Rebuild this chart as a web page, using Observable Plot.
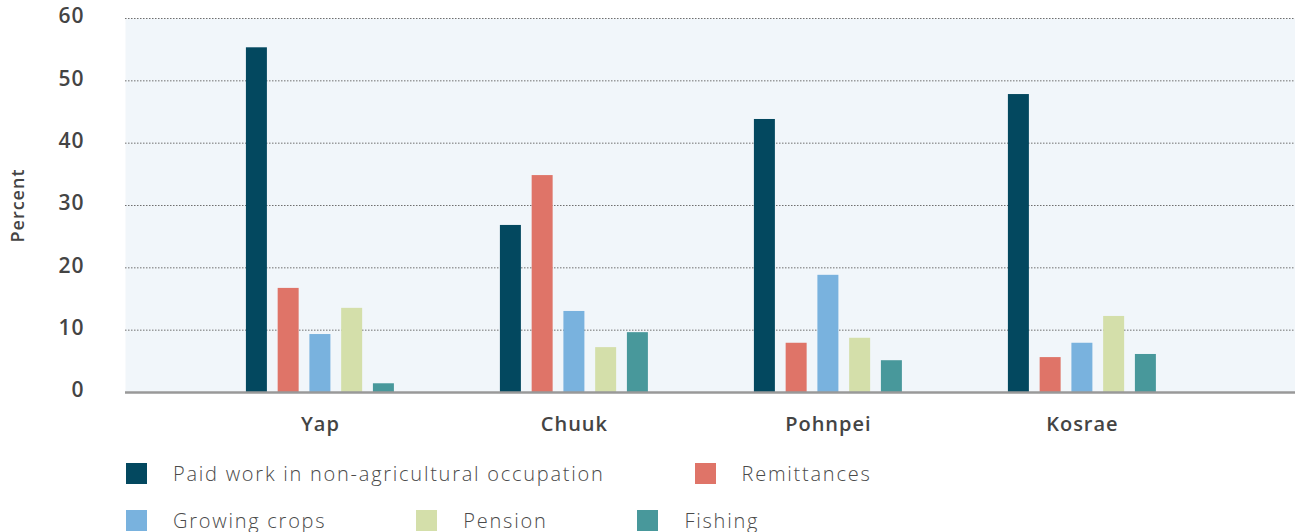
<!DOCTYPE html>
<html>
<head>
<meta charset="utf-8">
<script src="https://cdn.jsdelivr.net/npm/d3@7"></script>
<script src="https://cdn.jsdelivr.net/npm/@observablehq/plot@0.6"></script>
<style>
  html, body { margin: 0; padding: 0; background: #ffffff; }
  body { width: 1295px; height: 532px; overflow: hidden; font-family: "Open Sans", sans-serif; }
  #chart svg text { letter-spacing: 1px; }
  #chart svg g[aria-label="percent-label"] text { letter-spacing: 2px; }
  #legend { margin: 15px 0 0 126px; width: 860px; display: flex; flex-wrap: wrap; row-gap: 20px; }
  .item { display: flex; align-items: center; margin-right: 90px; font-size: 20px; line-height: 27px; color: #4a4a4a; font-weight: 300; letter-spacing: 1.75px; }
  .sw { width: 21px; height: 21px; margin-right: 26px; flex: none; }
</style>
</head>
<body>
<div id="chart"></div>
<div id="legend"></div>
<script>
const regions = ["Yap", "Chuuk", "Pohnpei", "Kosrae"];
const series = ["Paid work in non-agricultural occupation", "Remittances", "Growing crops", "Pension", "Fishing"];
const colors = ["#03485f", "#df7468", "#79b2de", "#d4dfaa", "#48989b"];
const yapValues = [55.3, 16.7, 9.3, 13.5, 1.4];
const chuukValues = [26.8, 34.8, 13.0, 7.2, 9.6];
const pohnpeiValues = [43.8, 7.9, 18.8, 8.7, 5.1];
const kosraeValues = [47.8, 5.6, 7.9, 12.2, 6.1];
const yTicks = [0, 10, 20, 30, 40, 50, 60];
const gapSlots = ["gap1", "gap2", "gap3"];

const valuesByRegion = [yapValues, chuukValues, pohnpeiValues, kosraeValues];
const key = (r, s) => r + "|" + s;
const data = regions.flatMap((r, i) => series.map((s, j) => ({region: r, series: s, slot: key(r, s), value: valuesByRegion[i][j]})));
// band domain: each region's series slots, separated by empty gap slots
const slotDomain = regions.flatMap((r, i) => [...series.map(s => key(r, s)), ...(i < regions.length - 1 ? gapSlots.map(g => key(r, g)) : [])]);

const chart = Plot.plot({
  width: 1295,
  height: 445,
  marginLeft: 125,
  marginRight: 0,
  marginTop: 18,
  marginBottom: 53,
  style: {fontFamily: "'Open Sans', sans-serif", background: "white", color: "#444", overflow: "visible"},
  x: {domain: slotDomain, paddingInner: 0.339, paddingOuter: 4.095, align: 0.465, round: false},
  y: {domain: [0, 60]},
  color: {domain: series, range: colors},
  marks: [
    Plot.frame({fill: "#f1f6fa", stroke: "none"}),
    Plot.ruleY(yTicks.filter(d => d > 0), {stroke: "#6f6f6f", strokeDasharray: "1.5,1.5", strokeWidth: 1}),
    Plot.barY(data, {x: "slot", y: "value", fill: "series"}),
    Plot.ruleY([0], {stroke: "#999", strokeWidth: 2.5}),
    Plot.axisY(yTicks, {tickSize: 0, tickPadding: 41, dy: -2, fontSize: 21, fontWeight: 600, fill: "#444", label: null}),
    Plot.text(["Percent"], {text: d => d, frameAnchor: "left", textAnchor: "middle", dx: -107, rotate: -90, fontSize: 18, fontWeight: 600, fill: "#444", ariaLabel: "percent-label"}),
    Plot.axisX(regions.map(r => key(r, series[2])), {anchor: "bottom", tickSize: 0, tickPadding: 24, tickFormat: k => k.split("|")[0], fontSize: 20, fontWeight: 600, fill: "#444", label: null})
  ]
});
document.getElementById("chart").appendChild(chart);

const legend = document.getElementById("legend");
series.forEach((s, i) => {
  const item = document.createElement("div");
  item.className = "item";
  const sw = document.createElement("span");
  sw.className = "sw";
  sw.style.background = colors[i];
  const t = document.createElement("span");
  t.textContent = s;
  item.appendChild(sw);
  item.appendChild(t);
  legend.appendChild(item);
});
</script>
</body>
</html>
